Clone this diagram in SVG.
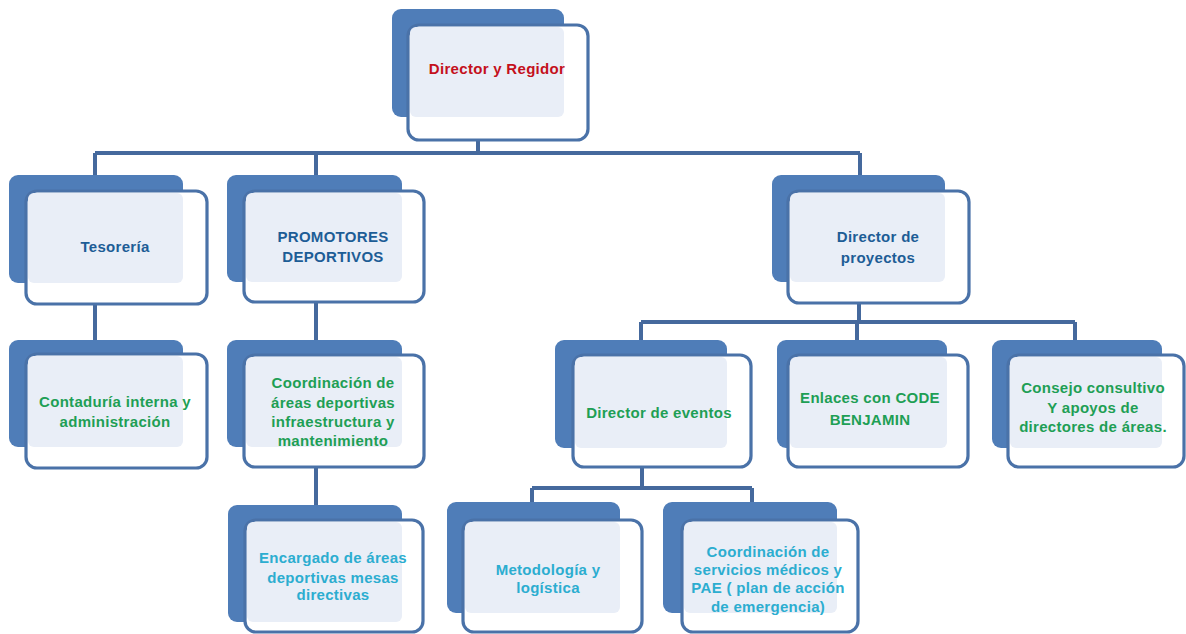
<svg xmlns="http://www.w3.org/2000/svg" width="1186" height="634" viewBox="0 0 1186 634">
<style>
.back{fill:#4f7db8}
.front{fill:#ffffff;stroke:#4a72a8;stroke-width:3.2}
.light{fill:#e9eef7}
.conn{stroke:#45699d;stroke-width:4;fill:none}
text{font-family:"Liberation Sans",Arial,sans-serif;font-weight:bold;font-size:15px;letter-spacing:0.3px;text-anchor:middle}
.red{fill:#c4101c}
.dblue{fill:#1d5d96}
.green{fill:#1e9f55}
.cyan{fill:#2cadd0}
</style>
<rect width="1186" height="634" fill="#ffffff"/>
<g id="connectors">
<path class="conn" d="M478,140V153M95,153H860M95,153V175M316,153V175M860,153V175"/>
<path class="conn" d="M95,304V340M316,302V340"/>
<path class="conn" d="M859,303V322M641,322H1075M641,322V340M857,322V340M1075,322V340"/>
<path class="conn" d="M316,467V505"/>
<path class="conn" d="M642,467V488M532,488H752M532,488V502M752,488V502"/>
</g>
<g id="director-regidor">
<rect class="back" x="392" y="9" width="172" height="108" rx="9"/>
<rect class="front" x="408" y="25" width="180" height="115" rx="11"/>
<rect class="light" x="410" y="27" width="154" height="90" rx="6"/>
<text class="red" x="497" y="74">Director y Regidor</text>
</g>
<g id="tesoreria">
<rect class="back" x="9" y="175" width="174" height="108" rx="9"/>
<rect class="front" x="26" y="191" width="181" height="113" rx="11"/>
<rect class="light" x="28" y="193" width="155" height="90" rx="6"/>
<text class="dblue" x="115" y="252">Tesorería</text>
</g>
<g id="promotores">
<rect class="back" x="227" y="175" width="175" height="107" rx="9"/>
<rect class="front" x="244" y="191" width="180" height="111" rx="11"/>
<rect class="light" x="246" y="193" width="156" height="89" rx="6"/>
<text class="dblue" x="333" y="242">PROMOTORES</text>
<text class="dblue" x="333" y="262">DEPORTIVOS</text>
</g>
<g id="director-proyectos">
<rect class="back" x="772" y="175" width="173" height="107" rx="9"/>
<rect class="front" x="788" y="191" width="181" height="112" rx="11"/>
<rect class="light" x="790" y="193" width="155" height="89" rx="6"/>
<text class="dblue" x="878" y="242">Director de</text>
<text class="dblue" x="878" y="263">proyectos</text>
</g>
<g id="contaduria">
<rect class="back" x="9" y="340" width="174" height="107" rx="9"/>
<rect class="front" x="26" y="354" width="181" height="114" rx="11"/>
<rect class="light" x="28" y="356" width="155" height="91" rx="6"/>
<text class="green" x="115" y="407">Contaduría interna y</text>
<text class="green" x="115" y="427">administración</text>
</g>
<g id="coordinacion-areas">
<rect class="back" x="227" y="340" width="175" height="107" rx="9"/>
<rect class="front" x="244" y="355" width="180" height="112" rx="11"/>
<rect class="light" x="246" y="357" width="156" height="90" rx="6"/>
<text class="green" x="333" y="388">Coordinación de</text>
<text class="green" x="333" y="408">áreas deportivas</text>
<text class="green" x="333" y="427">infraestructura y</text>
<text class="green" x="333" y="446">mantenimiento</text>
</g>
<g id="director-eventos">
<rect class="back" x="555" y="340" width="172" height="108" rx="9"/>
<rect class="front" x="573" y="355" width="178" height="112" rx="11"/>
<rect class="light" x="575" y="357" width="152" height="91" rx="6"/>
<text class="green" x="659" y="418">Director de  eventos</text>
</g>
<g id="enlaces">
<rect class="back" x="777" y="340" width="170" height="108" rx="9"/>
<rect class="front" x="788" y="355" width="180" height="112" rx="11"/>
<rect class="light" x="790" y="357" width="157" height="91" rx="6"/>
<text class="green" x="870" y="403">Enlaces con CODE</text>
<text class="green" x="870" y="425">BENJAMIN</text>
</g>
<g id="consejo">
<rect class="back" x="992" y="340" width="170" height="108" rx="9"/>
<rect class="front" x="1008" y="355" width="176" height="112" rx="11"/>
<rect class="light" x="1010" y="357" width="152" height="91" rx="6"/>
<text class="green" x="1093" y="393">Consejo consultivo</text>
<text class="green" x="1093" y="413">Y apoyos  de</text>
<text class="green" x="1093" y="432">directores de áreas.</text>
</g>
<g id="encargado">
<rect class="back" x="228" y="505" width="174" height="117" rx="9"/>
<rect class="front" x="245" y="520" width="178" height="112" rx="11"/>
<rect class="light" x="247" y="522" width="155" height="100" rx="6"/>
<text class="cyan" x="333" y="563">Encargado  de áreas</text>
<text class="cyan" x="333" y="583">deportivas  mesas</text>
<text class="cyan" x="333" y="600">directivas</text>
</g>
<g id="metodologia">
<rect class="back" x="447" y="502" width="173" height="111" rx="9"/>
<rect class="front" x="463" y="520" width="179" height="112" rx="11"/>
<rect class="light" x="465" y="522" width="155" height="91" rx="6"/>
<text class="cyan" x="548" y="575">Metodología y</text>
<text class="cyan" x="548" y="593">logística</text>
</g>
<g id="coordinacion-servicios">
<rect class="back" x="663" y="502" width="174" height="111" rx="9"/>
<rect class="front" x="682" y="520" width="176" height="112" rx="11"/>
<rect class="light" x="684" y="522" width="153" height="91" rx="6"/>
<text class="cyan" x="768" y="557">Coordinación de</text>
<text class="cyan" x="768" y="575">servicios médicos y</text>
<text class="cyan" x="768" y="593">PAE ( plan de acción</text>
<text class="cyan" x="768" y="612">de emergencia)</text>
</g>
</svg>
